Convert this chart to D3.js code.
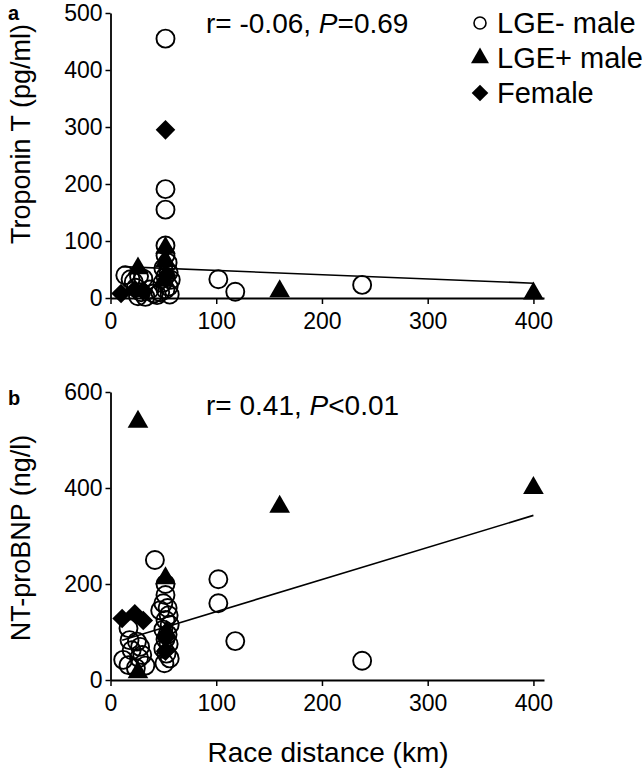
<!DOCTYPE html>
<html>
<head>
<meta charset="utf-8">
<script src="https://cdn.jsdelivr.net/npm/d3@7"></script>
<style>
  body { margin: 0; background: #fff; }
  svg { font-family: "Liberation Sans", Arial, sans-serif; }
</style>
</head>
<body>
<svg id="chart" width="644" height="770"></svg>
<script>
// panel a: troponin T (pg/ml) vs race distance (km)
const tntNegKm = [52, 52, 52, 52, 52, 54, 50, 55, 52, 57, 49, 55, 52, 47, 56, 44, 14, 19, 22, 27, 31, 24, 29, 33, 26, 37, 41, 102, 118, 238];
const tntNegVal = [455, 191, 155, 92, 75, 62, 52, 45, 38, 32, 26, 20, 15, 10, 6, 5, 40, 33, 28, 38, 34, 18, 10, 2, 3, 15, 8, 33, 11, 23];
const tntPosKm = [26, 52, 52, 50, 160, 400];
const tntPosVal = [52, 88, 65, 30, 12, 8];
const tntFemKm = [10, 23, 31, 52, 53];
const tntFemVal = [8, 15, 12, 295, 40];

// panel b: NT-proBNP (ng/l) vs race distance (km)
const bnpNegKm = [42, 52, 52, 102, 102, 118, 238, 50, 54, 47, 55, 52, 56, 50, 54, 52, 55, 50, 53, 56, 51, 17, 18, 25, 20, 28, 30, 12, 17, 27, 24, 33];
const bnpNegVal = [250, 200, 177, 210, 160, 81, 40, 160, 150, 145, 135, 125, 115, 105, 95, 85, 75, 65, 55, 45, 35, 108, 83, 80, 62, 69, 52, 42, 31, 46, 25, 30];
const bnpPosKm = [26, 52, 160, 400, 26, 53];
const bnpPosVal = [538, 212, 361, 400, 16, 100];
const bnpFemKm = [11, 23, 31, 52, 52];
const bnpFemVal = [128, 138, 124, 88, 60];

// regression lines (start / end)
const tntFitKm = [11, 400];
const tntFitVal = [55, 26];
const bnpFitKm = [11, 400];
const bnpFitVal = [83, 343];

const xTicks = [0, 100, 200, 300, 400];
const tntTicks = [0, 100, 200, 300, 400, 500];
const bnpTicks = [0, 200, 400, 600];

const legendNames = ["LGE- male", "LGE+ male", "Female"];

const svg = d3.select("#chart");
const x = d3.scaleLinear().domain([0, 410]).range([110.5, 544]);

const panels = [
  {
    letter: "a", top: 13, bottom: 298, max: 500, ticks: tntTicks,
    title: "Troponin T (pg/ml)", titleY: 134, letterY: 20,
    stat: ["r= -0.06, ", "P", "=0.69"], statY: 33,
    neg: [tntNegKm, tntNegVal], pos: [tntPosKm, tntPosVal], fem: [tntFemKm, tntFemVal],
    fit: [tntFitKm, tntFitVal],
  },
  {
    letter: "b", top: 392, bottom: 680, max: 600, ticks: bnpTicks,
    title: "NT-proBNP (ng/l)", titleY: 538, letterY: 405,
    stat: ["r= 0.41, ", "P", "<0.01"], statY: 415,
    neg: [bnpNegKm, bnpNegVal], pos: [bnpPosKm, bnpPosVal], fem: [bnpFemKm, bnpFemVal],
    fit: [bnpFitKm, bnpFitVal],
  },
];

const tri = d3.symbol().type(d3.symbolTriangle).size(185);
const dia = (s) => `M0,${-s}L${s},0L0,${s}L${-s},0Z`;
const zip = (arr) => arr[0].map((k, i) => [k, arr[1][i]]);

panels.forEach((p) => {
  const y = d3.scaleLinear().domain([0, p.max]).range([p.bottom, p.top]);
  const g = svg.append("g");

  g.append("g").selectAll("circle")
    .data(zip(p.neg))
    .enter().append("circle")
    .attr("cx", (d) => x(d[0]))
    .attr("cy", (d) => y(d[1]))
    .attr("r", 9)
    .attr("fill", "none")
    .attr("stroke", "#000")
    .attr("stroke-width", 1.9);

  g.append("g").selectAll("path")
    .data(zip(p.fem))
    .enter().append("path")
    .attr("transform", (d) => `translate(${x(d[0])},${y(d[1])})`)
    .attr("d", dia(9.8))
    .attr("fill", "#000");

  g.append("g").selectAll("path")
    .data(zip(p.pos))
    .enter().append("path")
    .attr("transform", (d) => `translate(${x(d[0])},${y(d[1])})`)
    .attr("d", tri)
    .attr("fill", "#000");

  g.append("line")
    .attr("x1", x(p.fit[0][0])).attr("y1", y(p.fit[1][0]))
    .attr("x2", x(p.fit[0][1])).attr("y2", y(p.fit[1][1]))
    .attr("stroke", "#000").attr("stroke-width", 1.6);

  // axes
  const xa = g.append("g")
    .attr("transform", `translate(0,${p.bottom})`)
    .call(d3.axisBottom(x).tickValues(xTicks).tickSize(6).tickSizeOuter(0).tickPadding(9));
  const ya = g.append("g")
    .attr("transform", `translate(${x(0)},0)`)
    .call(d3.axisLeft(y).tickValues(p.ticks).tickSize(5).tickSizeOuter(0).tickPadding(3));
  [xa, ya].forEach((a) => {
    a.select(".domain").attr("stroke-width", 1.8);
    a.selectAll(".tick line").attr("stroke-width", 1.5);
    a.selectAll("text").attr("font-size", 23).attr("fill", "#000").attr("font-family", null);
  });

  g.append("text")
    .attr("x", 8).attr("y", p.letterY)
    .attr("font-size", 20).attr("font-weight", "bold")
    .text(p.letter);

  g.append("text")
    .attr("transform", `translate(30,${p.titleY}) rotate(-90)`)
    .attr("text-anchor", "middle")
    .attr("font-size", 27)
    .text(p.title);

  const st = g.append("text").attr("x", 206).attr("y", p.statY).attr("font-size", 28);
  st.append("tspan").text(p.stat[0]);
  st.append("tspan").attr("font-style", "italic").text(p.stat[1]);
  st.append("tspan").text(p.stat[2]);
});

svg.append("text")
  .attr("x", 328).attr("y", 762)
  .attr("text-anchor", "middle")
  .attr("font-size", 28)
  .text("Race distance (km)");

// legend
const leg = svg.append("g");
legendNames.forEach((name, i) => {
  const cy = 23 + i * 35;
  const row = leg.append("g").attr("transform", `translate(480,${cy})`);
  if (i === 0) row.append("circle").attr("r", 6).attr("fill", "none").attr("stroke", "#000").attr("stroke-width", 1.6);
  if (i === 1) row.append("path").attr("d", d3.symbol().type(d3.symbolTriangle).size(140)).attr("fill", "#000");
  if (i === 2) row.append("path").attr("d", dia(8.3)).attr("fill", "#000");
  row.append("text").attr("x", 17).attr("y", 10).attr("font-size", 29).text(name);
});
</script>
</body>
</html>
